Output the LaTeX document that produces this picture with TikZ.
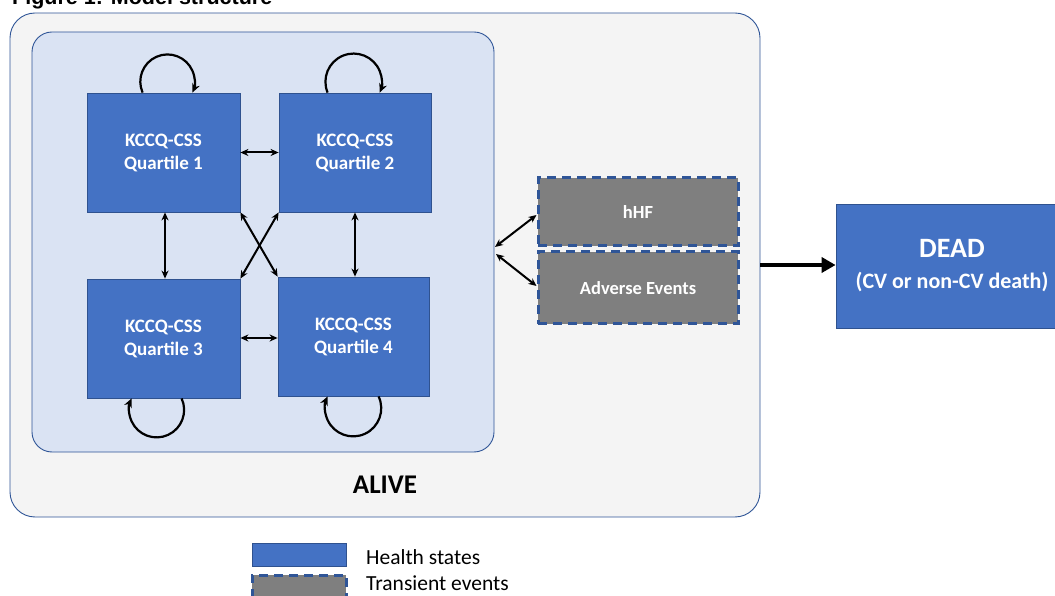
\documentclass[tikz,border=0pt]{standalone}
\usepackage{fontspec}
\setmainfont{Carlito}
\newfontfamily\titlefont{Liberation Sans}
\usetikzlibrary{arrows.meta,calc}
\definecolor{boxblue}{HTML}{4472C4}
\definecolor{boxedge}{HTML}{2F528F}
\definecolor{inner}{HTML}{DAE3F3}
\definecolor{outer}{HTML}{F4F4F4}
\definecolor{evgray}{HTML}{7F7F7F}
\definecolor{dashblue}{HTML}{2F5597}
\tikzset{
  hstate/.style={draw=boxedge, line width=0.8pt, fill=boxblue, text=white, font=\bfseries\fontsize{19}{23}\selectfont, align=center, inner sep=0pt},
  tevent/.style={draw=dashblue, line width=3pt, dash pattern=on 9pt off 6pt, fill=evgray, text=white, font=\bfseries\fontsize{18.5}{23}\selectfont, align=center, inner sep=0pt},
  conn/.style={line width=2pt, {Stealth[length=8pt,width=7pt]}-{Stealth[length=8pt,width=7pt]}},
  loopc/.style={line width=2.2pt, -{Stealth[length=9pt,width=8pt]}},
}
\begin{document}
\begin{tikzpicture}[x=1pt,y=1pt]
\useasboundingbox (0,0) rectangle (1055,595);
\begin{scope}
\clip (0,0) rectangle (1055,595);
% title
\node[anchor=base west, inner sep=0pt, font=\titlefont\bfseries\fontsize{21.5}{24}\selectfont] (title) at (12,590) {Figure 1: Model structure};
% containers
\node[draw=dashblue, line width=0.9pt, fill=outer, rounded corners=25pt, minimum width=750pt, minimum height=504pt, inner sep=0pt] (alive) at (385,330) {};
\node[draw=dashblue, line width=0.9pt, fill=inner, rounded corners=20pt, minimum width=462pt, minimum height=420pt, inner sep=0pt] (innerbox) at (263,353) {};
\node[font=\bfseries\fontsize{27}{30}\selectfont] (alivelbl) at (385,110) {ALIVE};
% health states
\node[hstate, minimum width=153pt, minimum height=119pt] (q1) at (163.5,442.5) {KCCQ-CSS\\Quartile 1};
\node[hstate, minimum width=152pt, minimum height=119pt] (q2) at (355,442.5) {KCCQ-CSS\\Quartile 2};
\node[hstate, minimum width=153pt, minimum height=119pt] (q3) at (163.5,256.5) {KCCQ-CSS\\Quartile 3};
\node[hstate, minimum width=151pt, minimum height=119pt] (q4) at (353.5,258.5) {KCCQ-CSS\\Quartile 4};
% transient events
\node[tevent, minimum width=200pt, minimum height=68pt] (hhf) at (638,383) {hHF};
\node[tevent, minimum width=200pt, minimum height=72pt] (ae) at (638,307) {Adverse Events};
% dead
\node[hstate, minimum width=232pt, minimum height=124pt, font=\bfseries\fontsize{22}{30}\selectfont] (dead) at (952,329) {{\fontsize{28}{30}\selectfont DEAD}\\[1pt](CV or non-CV death)};
% connectors between quartiles
\draw[conn] (q1.east) -- (q2.west);
\draw[conn] (q3.east |- 0,257) -- (q4.west |- 0,257);
\draw[conn] (q1.south) ++(1.5,0) coordinate (q1s) -- (q1s |- q3.north);
\draw[conn] (q2.south) -- (q2.south |- q4.north);
\draw[conn] (q1.south east) -- (q4.north west);
\draw[conn] (q2.south west) -- (q3.north east);
% self loops
\coordinate (l1) at ($(q1.north west)+(56,0)$);
\draw[loopc] (l1) arc[start angle=203.75, end angle=-23.75, radius=27.2pt];
\coordinate (l2) at ($(q2.north west)+(49,0)$);
\draw[loopc] (l2) arc[start angle=202.6, end angle=-22.6, radius=28.2pt];
\coordinate (l3) at ($(q3.south west)+(95,0)$);
\draw[loopc] (l3) arc[start angle=24.7, end angle=-204.7, radius=27.5pt];
\coordinate (l4) at ($(q4.south west)+(101,0)$);
\draw[loopc] (l4) arc[start angle=25, end angle=-205, radius=28.1pt];
% alive to events
\coordinate (a1) at (495,348);
\coordinate (a2) at (496,341);
\draw[conn] (a1) -- (hhf.west |- 0,380);
\draw[conn] (a2) -- (ae.west |- 0,309);
% to dead
\draw[line width=4.5pt, -{Triangle[length=14pt,width=15pt]}] (alive.east |- 0,330) -- (dead.west |- 0,330);
% legend
\node[draw=boxedge, line width=0.8pt, fill=boxblue, minimum width=94pt, minimum height=23pt, inner sep=0pt] (leg1) at (299,40.5) {};
\node[draw=dashblue, line width=3pt, dash pattern=on 9pt off 6pt, fill=evgray, minimum width=94pt, minimum height=23pt, inner sep=0pt] (leg2) at (299,8.5) {};
\node[anchor=west, inner sep=0pt, font=\fontsize{21.5}{24}\selectfont] (leg1t) at (366,38) {Health states};
\node[anchor=west, inner sep=0pt, font=\fontsize{21.5}{24}\selectfont] (leg2t) at (366,12) {Transient events};
\end{scope}
\end{tikzpicture}
\end{document}
